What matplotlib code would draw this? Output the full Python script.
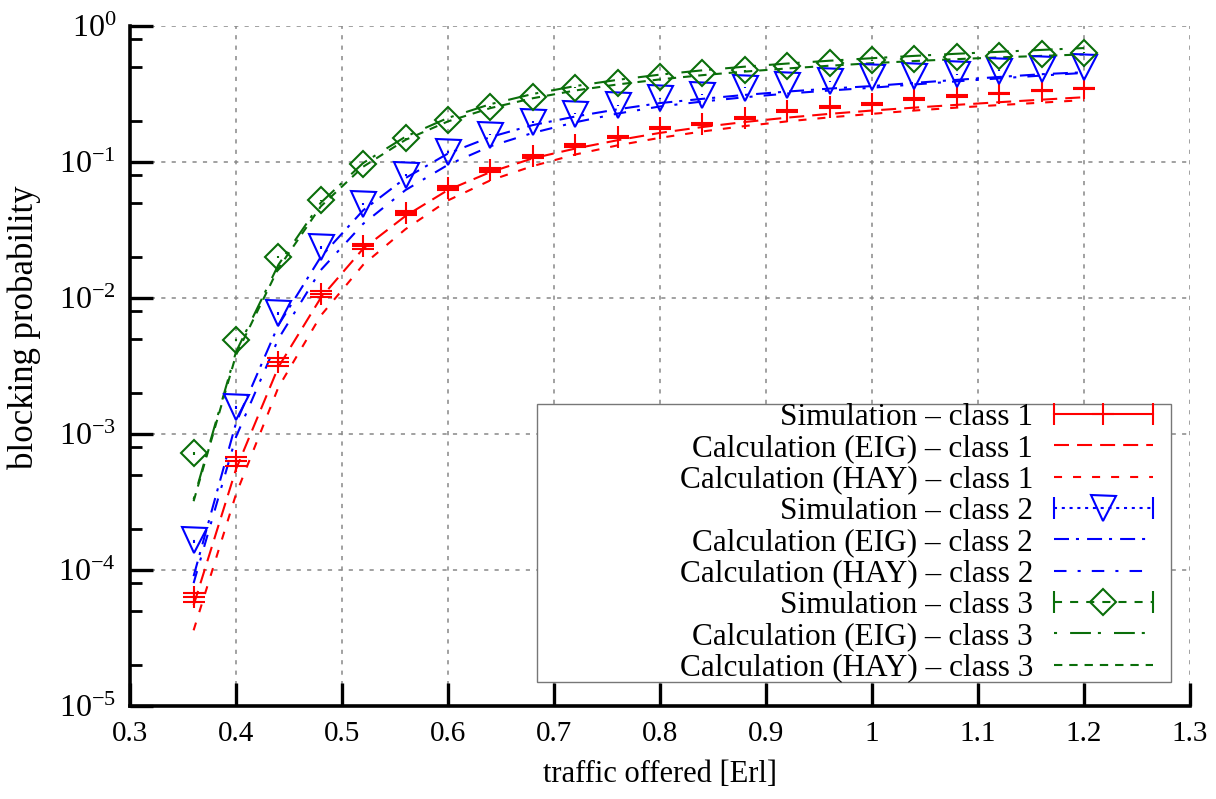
import matplotlib
matplotlib.use("Agg")
import matplotlib.pyplot as plt
from matplotlib.lines import Line2D
from matplotlib.patches import Rectangle
from matplotlib.legend_handler import HandlerLine2D
from matplotlib.ticker import LogLocator, NullFormatter

# traffic offered [Erl]
traffic = [0.36, 0.40, 0.44, 0.48, 0.52, 0.56, 0.60, 0.64, 0.68, 0.72, 0.76,
           0.80, 0.84, 0.88, 0.92, 0.96, 1.00, 1.04, 1.08, 1.12, 1.16, 1.20]

x_ticks = [0.3, 0.4, 0.5, 0.6, 0.7, 0.8, 0.9, 1.0, 1.1, 1.2, 1.3]
x_labels = ["0.3", "0.4", "0.5", "0.6", "0.7", "0.8", "0.9", "1", "1.1", "1.2", "1.3"]

# class 1
sim1 = [6.3e-5, 6.3e-4, 3.4e-3, 1.07e-2, 2.4e-2, 4.2e-2, 6.4e-2, 8.7e-2, 0.11, 0.132, 0.152,
        0.177, 0.19, 0.21, 0.237, 0.254, 0.266, 0.289, 0.306, 0.318, 0.333, 0.346]
sim1_err = [4.5e-6, 4.5e-5, 2.2e-4, 5e-4, 1e-3, 1.5e-3, 2e-3, 2.5e-3, 3e-3, 3e-3, 3e-3,
            3.5e-3, 3.5e-3, 4e-3, 4e-3, 4e-3, 4e-3, 4.5e-3, 4.5e-3, 4.5e-3, 4.5e-3, 5e-3]
eig1 = [5.5e-5, 5.5e-4, 3.1e-3, 1.0e-2, 2.3e-2, 4.0e-2, 6.2e-2, 8.4e-2, 0.106, 0.125, 0.144,
        0.163, 0.18, 0.196, 0.211, 0.225, 0.238, 0.25, 0.262, 0.274, 0.286, 0.298]
hay1 = [3.6e-5, 3.6e-4, 2.2e-3, 7.4e-3, 1.75e-2, 3.2e-2, 5.2e-2, 7.3e-2, 9.3e-2, 0.113, 0.132,
        0.15, 0.167, 0.183, 0.198, 0.212, 0.225, 0.238, 0.25, 0.261, 0.272, 0.284]

# class 2
sim2 = [1.65e-4, 1.58e-3, 7.7e-3, 2.35e-2, 4.9e-2, 8.0e-2, 0.118, 0.158, 0.196, 0.226, 0.261,
        0.293, 0.31, 0.35, 0.366, 0.39, 0.42, 0.427, 0.44, 0.468, 0.48, 0.50]
sim2_err = [6e-6, 5e-5, 2e-4, 5e-4, 8e-4, 1.1e-3, 1.4e-3, 1.6e-3, 1.8e-3, 2e-3, 2e-3,
            2.2e-3, 2.2e-3, 2.4e-3, 2.4e-3, 2.5e-3, 2.5e-3, 2.5e-3, 2.6e-3, 2.6e-3, 2.6e-3, 2.7e-3]
eig2 = [9e-5, 1.2e-3, 6.3e-3, 2.0e-2, 4.4e-2, 7.6e-2, 0.115, 0.152, 0.186, 0.215, 0.243,
        0.27, 0.29, 0.31, 0.328, 0.345, 0.36, 0.38, 0.40, 0.42, 0.44, 0.455]
hay2 = [8e-5, 9.5e-4, 5.0e-3, 1.6e-2, 3.5e-2, 6.2e-2, 0.095, 0.13, 0.163, 0.195, 0.226,
        0.255, 0.277, 0.298, 0.317, 0.334, 0.35, 0.37, 0.39, 0.41, 0.43, 0.45]

# class 3
sim3 = [7.2e-4, 4.9e-3, 2.0e-2, 5.2e-2, 9.7e-2, 0.149, 0.203, 0.254, 0.30, 0.35, 0.38,
        0.42, 0.45, 0.47, 0.506, 0.53, 0.555, 0.567, 0.59, 0.60, 0.62, 0.634]
sim3_err = [1.5e-5, 8e-5, 2.5e-4, 5e-4, 8e-4, 1e-3, 1.2e-3, 1.4e-3, 1.5e-3, 1.6e-3, 1.7e-3,
            1.8e-3, 1.9e-3, 2e-3, 2e-3, 2e-3, 2.1e-3, 2.1e-3, 2.2e-3, 2.2e-3, 2.2e-3, 2.3e-3]
eig3 = [3.3e-4, 4.0e-3, 1.75e-2, 5.0e-2, 9.8e-2, 0.153, 0.21, 0.265, 0.315, 0.36, 0.40,
        0.437, 0.47, 0.50, 0.527, 0.553, 0.577, 0.60, 0.622, 0.643, 0.664, 0.685]
hay3 = [3.2e-4, 3.8e-3, 1.65e-2, 4.7e-2, 9.2e-2, 0.145, 0.198, 0.248, 0.293, 0.334, 0.37,
        0.403, 0.433, 0.46, 0.485, 0.508, 0.53, 0.55, 0.568, 0.585, 0.60, 0.615]

RED = "#ff0000"
BLUE = "#0000ff"
GREEN = "#0a6e0a"
LW = 1.5

plt.rcParams["font.family"] = ["Liberation Serif", "DejaVu Serif"]
plt.rcParams["font.size"] = 21
plt.rcParams["mathtext.fontset"] = "custom"
plt.rcParams["mathtext.rm"] = "Liberation Serif"
plt.rcParams["mathtext.it"] = "Liberation Serif:italic"
plt.rcParams["lines.scale_dashes"] = False

# dash patterns (points)
DASH_EIG1 = (0, (10.8, 5.8))
DASH_HAY1 = (0, (5.8, 7.9))
DASH_EIG2 = (0, (10.8, 5.0, 2.2, 5.8))
DASH_HAY2 = (0, (9.0, 8.0, 2.2, 8.0))
DASH_EIG3 = (0, (2.2, 9.4, 15.0, 5.0))
DASH_HAY3 = (0, (6.0, 5.0))
DOT_SIM2 = (0, (2.2, 3.4))
DASH_SIM3 = (0, (5.8, 5.8))


def main():
    fig = plt.figure(figsize=(12.16, 7.99), dpi=100)
    ax = fig.add_axes([130 / 1216, 1 - 706 / 799, 1060 / 1216, 680.3 / 799])

    # calculated curves
    ax.plot(traffic, eig1, color=RED, lw=LW, ls=DASH_EIG1, zorder=3)
    ax.plot(traffic, hay1, color=RED, lw=LW, ls=DASH_HAY1, zorder=3)
    ax.plot(traffic, eig2, color=BLUE, lw=LW, ls=DASH_EIG2, zorder=3)
    ax.plot(traffic, hay2, color=BLUE, lw=LW, ls=DASH_HAY2, zorder=3)
    ax.plot(traffic, eig3, color=GREEN, lw=LW, ls=DASH_EIG3, zorder=3)
    ax.plot(traffic, hay3, color=GREEN, lw=LW, ls=DASH_HAY3, zorder=3)

    # simulation points with error bars
    ax.errorbar(traffic, sim1, yerr=sim1_err, fmt="+", color=RED, ms=16, mew=LW,
                elinewidth=LW, capsize=8, capthick=LW, zorder=4)
    eb = ax.errorbar(traffic, sim2, yerr=sim2_err, fmt="v", color=BLUE, mfc="none", ms=18,
                     mew=LW, elinewidth=LW, capsize=0, zorder=4)
    eb[2][0].set_linestyle(DOT_SIM2)
    eb = ax.errorbar(traffic, sim3, yerr=sim3_err, fmt="D", color=GREEN, mfc="none", ms=13,
                     mew=LW, elinewidth=LW, capsize=0, zorder=4)
    eb[2][0].set_linestyle(DASH_SIM3)

    ax.set_yscale("log")
    ax.set_xlim(0.3, 1.3)
    ax.set_ylim(1e-5, 1)
    ax.set_xticks(x_ticks)
    ax.set_xticklabels(x_labels)
    ax.yaxis.set_major_locator(LogLocator(base=10, numticks=10))
    ax.yaxis.set_minor_locator(LogLocator(base=10, subs=[2, 5, 8], numticks=10))
    ax.yaxis.set_minor_formatter(NullFormatter())

    ax.tick_params(which="major", direction="in", length=16.5, width=2.4, pad=11)
    ax.tick_params(which="minor", direction="in", length=8.5, width=2.0)
    ax.tick_params(axis="y", which="major", labelsize=23, pad=10)
    ax.tick_params(top=False, right=False)
    for s in ("top", "right"):
        ax.spines[s].set_visible(False)
    for s in ("left", "bottom"):
        ax.spines[s].set_linewidth(2.6)

    ax.grid(True, which="major", color="#888888", lw=1.1, ls=(0, (3, 4.5)))
    ax.set_axisbelow(True)

    ax.set_xlabel("traffic offered [Erl]", fontsize=22, labelpad=9)
    ax.set_ylabel("blocking probability", fontsize=25)
    ax.yaxis.set_label_coords(-0.084, 0.557)

    # key box
    ax.add_patch(Rectangle((0.384, 0.0353), 0.598, 0.409, transform=ax.transAxes,
                           facecolor="white", edgecolor="#777777", lw=1.0, zorder=4.5))

    def sim_handle(color, marker, ms, ls):
        line = Line2D([], [], color=color, lw=LW, ls=ls)
        caps = Line2D([], [], color=color, ls="none", marker="|", ms=16, mew=LW)
        mark = Line2D([], [], color=color, ls="none", marker=marker, ms=ms, mew=LW,
                      mfc="none")
        return (line, caps, mark), caps

    h1, c1 = sim_handle(RED, "+", 16, "-")
    h2, c2 = sim_handle(BLUE, "v", 18, DOT_SIM2)
    h3, c3 = sim_handle(GREEN, "D", 13, DASH_SIM3)
    cap_handler = HandlerLine2D(numpoints=2, marker_pad=0)

    handles = [
        h1,
        Line2D([], [], color=RED, lw=LW, ls=DASH_EIG1),
        Line2D([], [], color=RED, lw=LW, ls=DASH_HAY1),
        h2,
        Line2D([], [], color=BLUE, lw=LW, ls=DASH_EIG2),
        Line2D([], [], color=BLUE, lw=LW, ls=DASH_HAY2),
        h3,
        Line2D([], [], color=GREEN, lw=LW, ls=DASH_EIG3),
        Line2D([], [], color=GREEN, lw=LW, ls=DASH_HAY3),
    ]
    labels = [
        "Simulation \u2013 class 1",
        "Calculation (EIG) \u2013 class 1",
        "Calculation (HAY) \u2013 class 1",
        "Simulation \u2013 class 2",
        "Calculation (EIG) \u2013 class 2",
        "Calculation (HAY) \u2013 class 2",
        "Simulation \u2013 class 3",
        "Calculation (EIG) \u2013 class 3",
        "Calculation (HAY) \u2013 class 3",
    ]
    leg = ax.legend(handles, labels, loc="center right", bbox_to_anchor=(0.965, 0.240),
                    frameon=False, markerfirst=False, borderpad=0, borderaxespad=0,
                    handlelength=3.17, handletextpad=0.67, labelspacing=0.075,
                    fontsize=22.5, handler_map={c1: cap_handler, c2: cap_handler,
                                                c3: cap_handler})
    leg.set_zorder(5)

    fig.savefig("out.png", dpi=100)
    plt.close(fig)


if __name__ == "__main__":
    main()
